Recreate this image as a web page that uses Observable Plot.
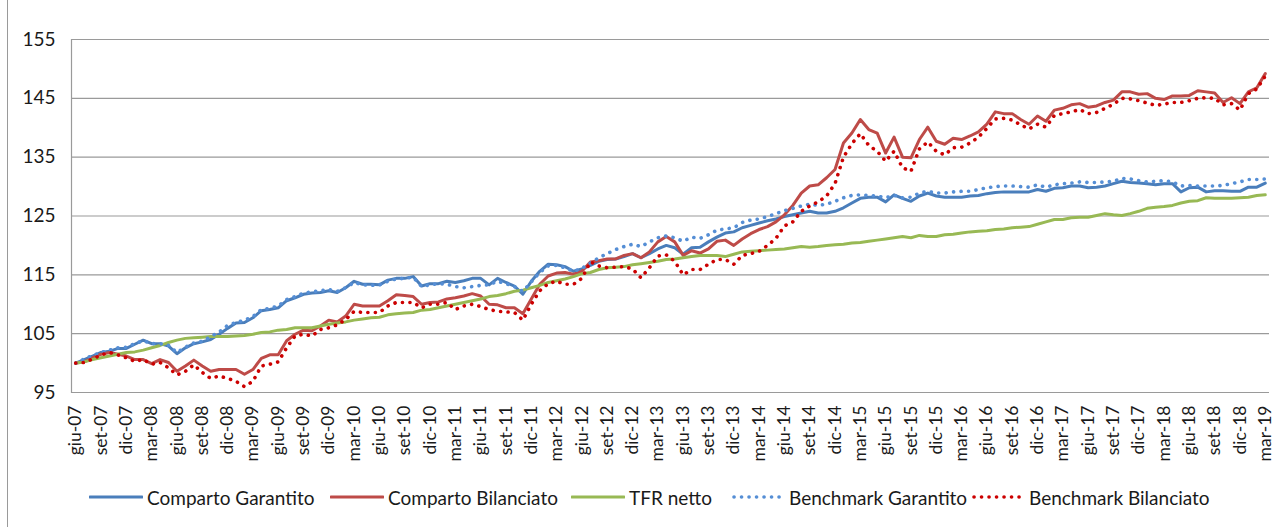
<!DOCTYPE html>
<html><head><meta charset="utf-8">
<script src="https://cdn.jsdelivr.net/npm/d3@7"></script>
<script src="https://cdn.jsdelivr.net/npm/@observablehq/plot@0.6"></script>
<style>
html,body{margin:0;padding:0;background:#fff;}
#wrap{position:relative;width:1282px;height:527px;overflow:hidden;font-family:Lato,"Open Sans",sans-serif;color:#1a1a1a;}
#border{position:absolute;left:7px;top:0;width:1px;height:527px;background:#9a9a9a;}
#chart{position:absolute;left:0;top:0;}
.lg{position:absolute;top:484px;height:26px;display:flex;align-items:center;font-size:19px;white-space:nowrap;}
.lg svg{margin-right:4px;}
</style></head><body>
<div id="wrap"><div id="chart"></div><div id="border"></div><div id="legend"></div></div>
<script>
const categories = [
"giu-07","lug-07","ago-07","set-07","ott-07","nov-07","dic-07",
"gen-08","feb-08","mar-08","apr-08","mag-08","giu-08","lug-08","ago-08","set-08","ott-08","nov-08","dic-08",
"gen-09","feb-09","mar-09","apr-09","mag-09","giu-09","lug-09","ago-09","set-09","ott-09","nov-09","dic-09",
"gen-10","feb-10","mar-10","apr-10","mag-10","giu-10","lug-10","ago-10","set-10","ott-10","nov-10","dic-10",
"gen-11","feb-11","mar-11","apr-11","mag-11","giu-11","lug-11","ago-11","set-11","ott-11","nov-11","dic-11",
"gen-12","feb-12","mar-12","apr-12","mag-12","giu-12","lug-12","ago-12","set-12","ott-12","nov-12","dic-12",
"gen-13","feb-13","mar-13","apr-13","mag-13","giu-13","lug-13","ago-13","set-13","ott-13","nov-13","dic-13",
"gen-14","feb-14","mar-14","apr-14","mag-14","giu-14","lug-14","ago-14","set-14","ott-14","nov-14","dic-14",
"gen-15","feb-15","mar-15","apr-15","mag-15","giu-15","lug-15","ago-15","set-15","ott-15","nov-15","dic-15",
"gen-16","feb-16","mar-16","apr-16","mag-16","giu-16","lug-16","ago-16","set-16","ott-16","nov-16","dic-16",
"gen-17","feb-17","mar-17","apr-17","mag-17","giu-17","lug-17","ago-17","set-17","ott-17","nov-17","dic-17",
"gen-18","feb-18","mar-18","apr-18","mag-18","giu-18","lug-18","ago-18","set-18","ott-18","nov-18","dic-18",
"gen-19","feb-19","mar-19"];

const tickLabels = ["giu-07","set-07","dic-07","mar-08","giu-08","set-08","dic-08","mar-09","giu-09","set-09","dic-09",
"mar-10","giu-10","set-10","dic-10","mar-11","giu-11","set-11","dic-11","mar-12","giu-12","set-12","dic-12",
"mar-13","giu-13","set-13","dic-13","mar-14","giu-14","set-14","dic-14","mar-15","giu-15","set-15","dic-15",
"mar-16","giu-16","set-16","dic-16","mar-17","giu-17","set-17","dic-17","mar-18","giu-18","set-18","dic-18","mar-19"];

const yTicks = [95, 105, 115, 125, 135, 145, 155];

const compartoGarantito = [100.0,100.6,101.2,101.8,102.0,102.5,102.5,103.2,103.9,103.3,103.3,102.9,101.6,102.6,103.3,103.6,104.0,104.9,105.9,106.8,106.9,
107.7,108.9,109.1,109.4,110.6,111.1,111.7,111.9,112.0,112.3,112.0,112.8,113.9,113.4,113.4,113.3,114.1,114.4,114.4,114.7,
113.1,113.5,113.5,113.9,113.7,114.0,114.4,114.4,113.3,114.4,113.7,113.1,111.7,113.9,115.6,116.8,116.7,116.4,115.6,116.0,
116.6,117.3,117.6,117.7,118.1,118.6,117.9,118.6,119.4,120.0,119.6,118.5,119.6,119.7,120.6,121.4,122.1,122.3,123.0,123.4,123.8,
124.2,124.5,124.9,125.2,125.5,125.8,125.5,125.5,125.8,126.4,127.2,128.0,128.2,128.2,127.4,128.6,128.0,127.5,128.4,128.9,
128.4,128.2,128.2,128.2,128.4,128.5,128.8,129.0,129.1,129.1,129.1,129.1,129.5,129.2,129.7,129.8,130.1,130.1,129.8,129.9,
130.1,130.5,130.9,130.7,130.6,130.5,130.3,130.5,130.5,129.1,129.8,129.9,129.1,129.3,129.3,129.2,129.2,129.9,129.9,130.6];

const compartoBilanciato = [100.0,100.2,100.9,101.5,101.8,101.5,101.2,100.6,100.6,99.9,100.6,100.1,98.6,99.5,100.5,99.5,98.6,98.9,98.9,98.9,98.1,
98.9,100.8,101.4,101.4,103.8,104.9,105.6,105.5,106.3,107.3,107.0,108.0,110.0,109.7,109.7,109.7,110.6,111.6,111.5,111.3,
110.0,110.3,110.4,110.9,111.1,111.4,111.8,111.4,110.0,109.9,109.4,109.4,108.4,110.9,113.4,114.8,115.3,115.4,115.1,115.6,
117.2,117.4,117.7,117.7,118.3,118.6,117.9,118.9,120.6,121.5,120.6,118.3,119.1,118.7,119.4,120.7,120.9,120.0,121.1,122.0,122.7,
123.2,124.0,125.2,126.8,128.9,130.1,130.3,131.5,132.9,137.4,139.1,141.4,139.7,139.1,135.7,138.4,135.0,134.9,138.0,140.1,
137.7,137.2,138.2,138.0,138.6,139.3,140.6,142.7,142.4,142.4,141.4,140.6,142.0,141.1,143.0,143.3,143.9,144.1,143.5,143.7,
144.3,144.7,146.1,146.1,145.7,145.8,145.0,144.8,145.4,145.4,145.5,146.3,146.1,145.9,144.3,145.1,144.1,146.1,146.8,149.2];

const tfrNetto = [100.0,100.2,100.6,100.9,101.2,101.5,101.8,101.9,102.2,102.6,103.0,103.5,103.9,104.2,104.3,104.4,104.5,104.5,104.5,104.6,104.7,
104.9,105.2,105.3,105.6,105.7,106.0,106.0,106.0,106.3,106.6,106.8,107.0,107.3,107.5,107.7,107.8,108.2,108.4,108.5,108.6,
109.0,109.1,109.4,109.7,110.0,110.3,110.6,110.9,111.3,111.5,111.8,112.2,112.4,112.8,113.2,113.7,114.0,114.3,114.7,115.2,
115.4,115.9,116.2,116.3,116.4,116.7,116.9,117.1,117.3,117.6,117.7,117.9,118.1,118.3,118.3,118.3,118.1,118.5,118.9,119.0,119.1,
119.2,119.3,119.4,119.6,119.8,119.7,119.8,120.0,120.1,120.2,120.4,120.5,120.7,120.9,121.1,121.3,121.5,121.3,121.7,121.5,
121.5,121.8,121.9,122.1,122.3,122.4,122.5,122.7,122.8,123.0,123.1,123.2,123.6,124.0,124.4,124.4,124.7,124.8,124.8,125.1,
125.4,125.2,125.1,125.4,125.8,126.3,126.5,126.6,126.8,127.2,127.5,127.6,128.1,128.0,128.0,128.0,128.1,128.2,128.5,128.6];

const benchmarkGarantito = [100.0,100.7,101.3,101.8,102.2,102.6,102.7,103.3,103.8,103.3,103.3,103.0,101.8,102.7,103.4,103.7,104.5,105.3,106.4,106.9,107.3,
107.9,109.1,109.3,109.7,110.8,111.3,111.9,112.1,112.3,112.5,112.2,112.8,113.7,113.3,113.2,113.3,113.9,114.3,114.4,114.6,
113.0,113.3,113.5,113.4,113.0,112.8,113.0,113.2,113.3,113.9,113.5,113.0,112.2,113.8,115.4,116.5,116.6,116.2,115.6,116.1,
117.0,117.9,118.6,119.3,119.8,120.2,119.8,120.6,121.3,121.6,121.3,120.7,121.4,121.2,121.8,122.6,122.8,123.0,123.9,124.3,124.5,
124.9,125.4,125.9,126.3,126.7,127.0,126.8,127.0,127.5,128.1,128.5,128.6,128.5,128.4,128.1,128.5,128.1,128.2,128.9,129.2,
128.9,128.9,129.1,129.2,129.2,129.5,129.8,130.0,130.1,130.1,130.0,129.9,130.3,129.9,130.3,130.5,130.6,130.8,130.7,130.7,
130.8,130.9,131.4,131.3,131.0,130.8,130.9,131.0,130.8,130.1,130.2,130.1,130.1,130.1,130.2,130.5,130.8,131.2,131.2,131.3];

const benchmarkBilanciato = [100.0,100.1,100.7,101.4,101.8,101.4,100.9,100.3,100.6,99.8,100.1,99.2,98.0,98.6,99.7,98.4,97.4,97.8,97.4,96.9,96.0,
96.9,99.5,99.8,100.2,102.6,104.6,104.9,104.6,105.7,106.0,106.5,107.4,108.8,108.6,108.6,108.6,109.7,110.3,110.3,110.3,
109.4,110.0,110.0,110.3,109.1,109.7,110.0,109.6,109.1,108.8,108.7,108.6,107.3,110.0,112.3,113.5,113.9,113.4,113.4,114.4,
117.2,116.5,116.2,116.3,116.4,116.0,114.5,116.2,118.2,118.4,117.3,115.0,115.9,115.9,116.8,117.6,117.6,116.8,118.3,118.6,119.0,
120.0,121.2,123.3,124.0,125.8,126.7,127.4,128.4,130.5,135.0,137.3,139.0,137.0,136.0,134.3,136.0,133.2,132.6,136.4,137.6,
136.0,135.4,136.6,136.7,137.4,138.4,139.9,141.5,141.6,141.3,140.5,139.8,140.6,140.1,142.1,142.4,142.7,143.1,142.4,142.6,
143.3,144.0,145.0,144.9,144.6,144.2,143.8,144.0,144.3,144.3,144.6,145.0,145.1,145.0,143.9,144.1,143.0,145.8,146.6,148.8];

const seriesNames = ["Comparto Garantito","Comparto Bilanciato","TFR netto","Benchmark Garantito","Benchmark Bilanciato"];
const seriesValues = [compartoGarantito, compartoBilanciato, tfrNetto, benchmarkGarantito, benchmarkBilanciato];
const seriesColors = ["#4A7EBB","#BE4B48","#98B954","#558ED5","#CC0000"];
const seriesDotted = [false,false,false,true,true];

const rows = seriesNames.map((name, s) => seriesValues[s].map((v, i) => ({series: name, month: categories[i], value: v})));

const lineMarks = rows.map((data, s) => Plot.line(data, {
  x: "month", y: "value",
  stroke: seriesColors[s],
  strokeWidth: seriesDotted[s] ? 3.6 : 3,
  strokeDasharray: seriesDotted[s] ? "0.1 7.4" : null,
  strokeLinecap: "round", strokeLinejoin: "round"
}));

const chart = Plot.plot({
  width: 1282, height: 467,
  marginLeft: 71, marginRight: 13, marginTop: 39, marginBottom: 75,
  style: {fontFamily: "Lato, 'Open Sans', sans-serif", background: "transparent", color: "#1a1a1a"},
  x: {type: "point", domain: categories, padding: 0.5},
  y: {domain: [95, 155]},
  marks: [
    Plot.ruleY(yTicks, {stroke: "#9a9a9a", strokeWidth: 1.2}),
    Plot.frame({anchor: "left", stroke: "#9a9a9a", strokeWidth: 1.2}),
    Plot.axisY(yTicks, {tickSize: 0, tickPadding: 16, fontSize: 19, label: null}),
    Plot.axisX(tickLabels, {tickSize: 0, tickRotate: -90, tickPadding: 13, fontSize: 17.5, label: null}),
    ...lineMarks
  ]
});
document.getElementById("chart").appendChild(chart);

const legendLeft = [89, 330, 571, 731, 971];
const legend = document.getElementById("legend");
seriesNames.forEach((name, s) => {
  const item = document.createElement("div");
  item.className = "lg";
  item.style.left = legendLeft[s] + "px";
  const dash = seriesDotted[s] ? `stroke-dasharray="0.1 7.4" stroke-width="3.6"` : `stroke-width="3"`;
  item.innerHTML = `<svg width="54" height="10"><line x1="${seriesDotted[s] ? 3 : 1}" y1="5" x2="${seriesDotted[s] ? 52 : 53}" y2="5" stroke="${seriesColors[s]}" ${dash} stroke-linecap="round"/></svg><span>${name}</span>`;
  legend.appendChild(item);
});
</script>
</body></html>
